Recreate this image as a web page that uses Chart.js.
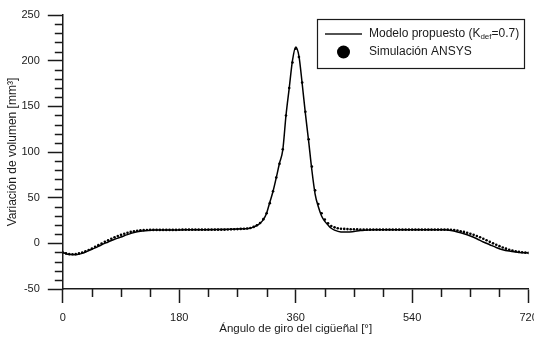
<!DOCTYPE html>
<html>
<head>
<meta charset="utf-8">
<script src="https://cdn.jsdelivr.net/npm/chart.js@4"></script>
<style>
  body { margin: 0; background: #fff; }
  canvas { display: block; }
</style>
</head>
<body>
<canvas id="myChart" width="534" height="338"></canvas>
<script>
// modelo propuesto (linea continua)
const modelAngles = [0, 10, 20, 30, 40, 50, 60, 70, 80, 90, 100, 110, 120, 130, 140, 160, 180, 200, 220, 240, 260, 280, 290,
  295, 300, 305, 310, 315, 320, 325, 330, 335, 340, 345, 350, 355, 360, 365, 370, 375, 380, 385, 390, 395, 400, 405, 410,
  415, 420, 430, 440, 450, 460, 470, 480, 500, 520, 540, 560, 580, 590, 600, 610, 620, 630, 640, 650, 660, 670, 680, 690,
  700, 710, 720];
const modelValues = [-10, -12.3, -12.4, -11, -8, -5, -1.5, 1.5, 4.5, 7, 9.5, 11.8, 13.3, 14, 14.5, 14.6, 14.7, 14.9, 15, 15.2, 15.5, 16, 16.5,
  18, 19.5, 22, 26, 33, 45, 57, 72, 88, 102, 140, 170, 200, 215, 205, 175, 142, 112, 80, 54, 40, 30, 24, 20,
  16.5, 14.5, 12.5, 12.3, 13, 14, 14.5, 15, 15, 15, 15, 15, 14.9, 14.8, 14, 12.5, 10.5, 8, 5, 1.5, -1.5, -4.5, -7, -8.5,
  -9.5, -10.2, -10.5];

// simulacion ANSYS (puntos)
const simAngles = [0, 5, 10, 15, 20, 25, 30, 35, 40, 45, 50, 55, 60, 65, 70, 75, 80, 85, 90, 95, 100, 105, 110, 115, 120,
  125, 130, 135, 140, 145, 150, 155, 160, 165, 170, 175, 180, 185, 190, 195, 200, 205, 210, 215, 220, 225, 230, 235, 240,
  245, 250, 255, 260, 265, 270, 275, 280, 285, 290, 295, 300, 305, 310, 315, 320, 325, 330, 335, 340, 345, 350, 355, 360,
  365, 370, 375, 380, 385, 390, 395, 400, 405, 410, 415, 420, 425, 430, 435, 440, 445, 450, 455, 460, 465, 470, 475, 480,
  485, 490, 495, 500, 505, 510, 515, 520, 525, 530, 535, 540, 545, 550, 555, 560, 565, 570, 575, 580, 585, 590, 595, 600,
  605, 610, 615, 620, 625, 630, 635, 640, 645, 650, 655, 660, 665, 670, 675, 680, 685, 690, 695, 700, 705, 710, 715, 720];
const simValues = [-10, -11, -11.8, -12, -11.8, -11, -10, -8.8, -7.3, -5.6, -3.8, -2, -0.2, 1.6, 3.3, 5, 6.6, 8, 9.3, 10.5, 11.6, 12.5, 13.2, 13.8, 14.2,
  14.5, 14.6, 14.7, 14.7, 14.7, 14.7, 14.7, 14.7, 14.7, 14.7, 14.7, 14.8, 15, 15, 15, 15, 15, 15, 15, 15, 15, 15, 15, 15,
  15, 15, 15.2, 15.3, 15.5, 15.6, 15.8, 16, 16.3, 16.8, 18, 19.8, 22.3, 26.5, 33, 44, 57, 72, 87, 103, 140, 170, 198, 213,
  204, 176, 144, 114, 84, 58, 43, 33, 26, 22, 19, 17.5, 16.5, 16, 15.8, 15.6, 15.5, 15.5, 15.3, 15.2, 15.1, 15, 15, 15,
  15, 15, 15, 15, 15, 15, 15, 15, 15, 15, 15, 15, 15, 15, 15, 15, 15, 15, 15, 15, 15, 15, 15, 14.9, 14.6, 14,
  13.3, 12.5, 11.6, 10.5, 9.3, 8, 6.6, 5, 3.3, 1.6, 0, -1.6, -3.1, -4.5, -5.8, -7, -7.9, -8.7, -9.3, -9.8, -10.2, -10.5, -10.7, -10.8];

const xTicks = [0, 180, 360, 540, 720];
const yTicks = [-50, 0, 50, 100, 150, 200, 250];

const FONT = '"Liberation Sans", Arial, sans-serif';
const INK = '#1a1a1a';

const toPoints = (xs, ys) => xs.map((x, i) => ({ x: x, y: ys[i] }));

// ticks menores en ambos ejes
const minorTicks = {
  id: 'minorTicks',
  afterDraw(chart) {
    const c = chart.ctx;
    const xs = chart.scales.x, ys = chart.scales.y;
    const a = chart.chartArea;
    c.save();
    c.strokeStyle = INK;
    c.lineWidth = 1.5;
    c.beginPath();
    for (let v = 45; v < 720; v += 45) {
      if (v % 180 === 0) continue;
      const px = Math.round(xs.getPixelForValue(v)) + 0.5;
      c.moveTo(px, a.bottom);
      c.lineTo(px, a.bottom + 8);
    }
    for (let v = -40; v < 250; v += 10) {
      if (v % 50 === 0) continue;
      const py = Math.round(ys.getPixelForValue(v)) + 0.5;
      c.moveTo(a.left - 8, py);
      c.lineTo(a.left, py);
    }
    c.stroke();
    c.restore();
  }
};

// leyenda con subindice
const boxLegend = {
  id: 'boxLegend',
  afterDraw(chart) {
    const c = chart.ctx;
    c.save();
    c.strokeStyle = INK;
    c.lineWidth = 1.2;
    c.strokeRect(317.5, 19.5, 207, 49);
    c.beginPath();
    c.lineWidth = 1.5;
    c.moveTo(325, 34);
    c.lineTo(362, 34);
    c.stroke();
    c.fillStyle = '#000';
    c.beginPath();
    c.arc(343.5, 52, 6.5, 0, Math.PI * 2);
    c.fill();
    c.fillStyle = INK;
    c.textBaseline = 'middle';
    c.font = '12px ' + FONT;
    let x = 369;
    const t1 = 'Modelo propuesto (K';
    c.fillText(t1, x, 34);
    x += c.measureText(t1).width;
    c.font = '8px ' + FONT;
    c.fillText('def', x, 37);
    x += c.measureText('def').width;
    c.font = '12px ' + FONT;
    c.fillText('=0.7)', x, 34);
    c.fillText('Simulación ANSYS', 369, 52);
    c.restore();
  }
};

const config = {
  type: 'scatter',
  data: {
    datasets: [{
      label: 'Simulación ANSYS',
      data: toPoints(simAngles, simValues),
      backgroundColor: '#000',
      borderColor: '#000',
      pointRadius: 1.3,
      pointBorderWidth: 0,
      showLine: false
    },
    {
      label: 'Modelo propuesto (Kdef=0.7)',
      data: toPoints(modelAngles, modelValues),
      borderColor: '#000',
      borderWidth: 1.5,
      pointRadius: 0,
      showLine: true,
      cubicInterpolationMode: 'monotone'
    }]
  },
  options: {
    responsive: false,
    devicePixelRatio: 1,
    animation: false,
    layout: { padding: { top: 15, right: 5.4, left: 0, bottom: 0 } },
    plugins: { legend: { display: false }, tooltip: { enabled: false } },
    scales: {
      x: {
        type: 'linear',
        min: 0,
        max: 720,
        afterBuildTicks: s => { s.ticks = xTicks.map(v => ({ value: v })); },
        afterFit: s => { s.height = 49; s.paddingLeft = 0; s.paddingRight = 0; },
        border: { color: INK, width: 1.5 },
        grid: { drawOnChartArea: false, tickLength: 14, tickColor: INK, tickWidth: 1.5 },
        ticks: { color: INK, font: { family: FONT, size: 11 }, padding: 8, maxRotation: 0, autoSkip: false },
        title: { display: true, text: 'Ángulo de giro del cigüeñal [°]', color: INK,
          font: { family: FONT, size: 11.5 }, padding: { top: 0, bottom: 2 } }
      },
      y: {
        min: -50,
        max: 250,
        afterBuildTicks: s => { s.ticks = yTicks.map(v => ({ value: v })); },
        afterFit: s => { s.width = 62.8; s.paddingTop = 0; s.paddingBottom = 0; },
        border: { color: INK, width: 1.5 },
        grid: { drawOnChartArea: false, tickLength: 15, tickColor: INK, tickWidth: 1.5 },
        ticks: { color: INK, font: { family: FONT, size: 11 }, padding: 8 },
        title: { display: true, text: 'Variación de volumen [mm³]', color: INK,
          font: { family: FONT, size: 12 }, padding: { top: 5, bottom: 0 } }
      }
    }
  },
  plugins: [minorTicks, boxLegend]
};

const myChart = new Chart(document.getElementById('myChart'), config);
</script>
</body>
</html>
